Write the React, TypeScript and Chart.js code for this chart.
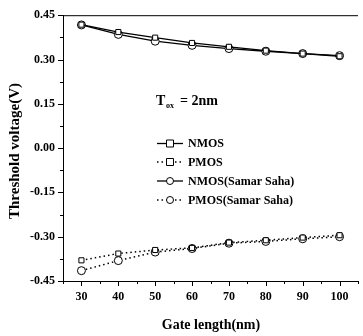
import React, { useEffect, useRef } from "react";
import { Chart, registerables } from "chart.js";

Chart.register(...registerables);

const gateLengths = [30, 40, 50, 60, 70, 80, 90, 100];
const nmos = [0.418, 0.393, 0.374, 0.356, 0.343, 0.33, 0.32, 0.311];
const pmos = [-0.38, -0.357, -0.345, -0.338, -0.32, -0.312, -0.303, -0.295];
const nmosSaha = [0.417, 0.385, 0.362, 0.348, 0.337, 0.328, 0.32, 0.313];
const pmosSaha = [-0.415, -0.381, -0.352, -0.34, -0.322, -0.316, -0.307, -0.3];
const xTicks = [30, 40, 50, 60, 70, 80, 90, 100];
const yTicks = [-0.45, -0.3, -0.15, 0, 0.15, 0.3, 0.45];
const legendLabels = ["NMOS", "PMOS", "NMOS(Samar Saha)", "PMOS(Samar Saha)"];
const xTitle = "Gate length(nm)";
const yTitle = "Threshold voltage(V)";

const FONT = '"Liberation Serif", "Times New Roman", serif';

const pts = (vals: number[]) => gateLengths.map((x, i) => ({ x, y: vals[i] }));

const overlay = {
  id: "overlay",
  afterDraw(chart: any) {
    const { ctx, chartArea: a, scales } = chart;
    const x = scales.x;
    const y = scales.y;
    ctx.save();
    ctx.strokeStyle = "#000";
    ctx.fillStyle = "#000";
    ctx.lineWidth = 1;
    ctx.setLineDash([]);
    ctx.beginPath();
    ctx.moveTo(a.left, a.top + 0.5);
    ctx.lineTo(a.right, a.top + 0.5);
    // x ticks
    for (let v = 25; v <= 105; v += 5) {
      const px = Math.round(x.getPixelForValue(v)) + 0.5;
      const len = v % 10 === 0 ? 5 : 3;
      ctx.moveTo(px, a.bottom);
      ctx.lineTo(px, a.bottom + len);
    }
    // y ticks
    for (let i = -6; i <= 6; i++) {
      const py = Math.round(y.getPixelForValue(i * 0.075)) + 0.5;
      const len = i % 2 === 0 ? 5 : 3;
      ctx.moveTo(a.left, py);
      ctx.lineTo(a.left - len, py);
    }
    ctx.stroke();

    // axis titles
    ctx.font = `bold 14px ${FONT}`;
    ctx.textAlign = "center";
    ctx.textBaseline = "middle";
    ctx.fillText(xTitle, 211, 325);
    ctx.save();
    ctx.translate(15, 151);
    ctx.rotate(-Math.PI / 2);
    ctx.font = `bold 15px ${FONT}`;
    ctx.fillText(yTitle, 0, 0);
    ctx.restore();

    // T_ox label
    ctx.textAlign = "left";
    ctx.textBaseline = "alphabetic";
    ctx.font = `bold 14px ${FONT}`;
    ctx.fillText("T", 156, 105);
    ctx.font = `bold 8px ${FONT}`;
    ctx.fillText("ox", 166, 108);
    ctx.font = `bold 14px ${FONT}`;
    ctx.fillText("= 2nm", 180, 105);

    // legend
    const rows = [143.5, 162, 181, 200];
    rows.forEach((ry, i) => {
      const dotted = i % 2 === 1;
      const circle = i >= 2;
      ctx.lineWidth = dotted ? 1.5 : 1.3;
      ctx.setLineDash(dotted ? [1.5, 3] : []);
      ctx.beginPath();
      ctx.moveTo(157, ry);
      ctx.lineTo(183, ry);
      ctx.stroke();
      ctx.setLineDash([]);
      ctx.lineWidth = 1;
      ctx.fillStyle = "#fff";
      ctx.beginPath();
      if (circle) {
        ctx.arc(170, ry, 3.5, 0, Math.PI * 2);
      } else {
        ctx.rect(166.5, ry - 3.5, 7, 7);
      }
      ctx.fill();
      ctx.stroke();
      ctx.fillStyle = "#000";
      ctx.font = `bold 12px ${FONT}`;
      ctx.textBaseline = "middle";
      ctx.fillText(legendLabels[i], 188, ry + 0.5);
    });
    ctx.restore();
  },
};

export default function App() {
  const ref = useRef<HTMLCanvasElement | null>(null);
  useEffect(() => {
    if (!ref.current) return;
    const mk = (label: string, data: number[], dotted: boolean, circle: boolean) => ({
      label,
      data: pts(data),
      borderColor: "#000",
      backgroundColor: "#fff",
      borderWidth: dotted ? 1.5 : 1.3,
      borderDash: dotted ? [1.5, 3] : [],
      pointStyle: circle ? "circle" : "rect",
      pointRadius: circle ? 4 : 3.6,
      pointBorderWidth: 1,
      pointBorderColor: "#000",
      pointBackgroundColor: "#fff",
      fill: false,
      tension: 0,
    });
    const chart = new Chart(ref.current, {
      type: "line",
      data: {
        datasets: [
          mk(legendLabels[0], nmos, false, false),
          mk(legendLabels[1], pmos, true, false),
          mk(legendLabels[2], nmosSaha, false, true),
          mk(legendLabels[3], pmosSaha, true, true),
        ] as any,
      },
      options: {
        responsive: false,
        animation: false,
        devicePixelRatio: 1,
        layout: { padding: { top: 13, right: 0, left: 0, bottom: 0 } },
        plugins: { legend: { display: false }, tooltip: { enabled: false } },
        scales: {
          x: {
            type: "linear",
            min: 25,
            max: 105,
            afterBuildTicks: (s: any) => {
              s.ticks = xTicks.map((v) => ({ value: v }));
            },
            afterFit: (s: any) => {
              s.height = 55;
            },
            grid: { display: false, drawTicks: false },
            border: { display: true, color: "#000", width: 1 },
            ticks: {
              padding: 9,
              color: "#000",
              font: { family: FONT, size: 12, weight: "bold" },
              callback: (v: any) => String(v),
              maxRotation: 0,
              autoSkip: false,
            },
          },
          y: {
            type: "linear",
            min: -0.45,
            max: 0.45,
            afterBuildTicks: (s: any) => {
              s.ticks = yTicks.map((v) => ({ value: v }));
            },
            afterFit: (s: any) => {
              s.width = 63;
            },
            grid: { display: false, drawTicks: false },
            border: { display: true, color: "#000", width: 1 },
            ticks: {
              padding: 8,
              color: "#000",
              font: { family: FONT, size: 12, weight: "bold" },
              callback: (v: any) => Number(v).toFixed(2),
              autoSkip: false,
            },
          },
        },
      } as any,
      plugins: [overlay],
    });
    return () => chart.destroy();
  }, []);
  return (
    <div style={{ position: "fixed", left: 0, top: 0, width: 363, height: 336, background: "#fff" }}>
      <canvas ref={ref} width={363} height={336} style={{ display: "block", width: 363, height: 336 }} />
    </div>
  );
}
